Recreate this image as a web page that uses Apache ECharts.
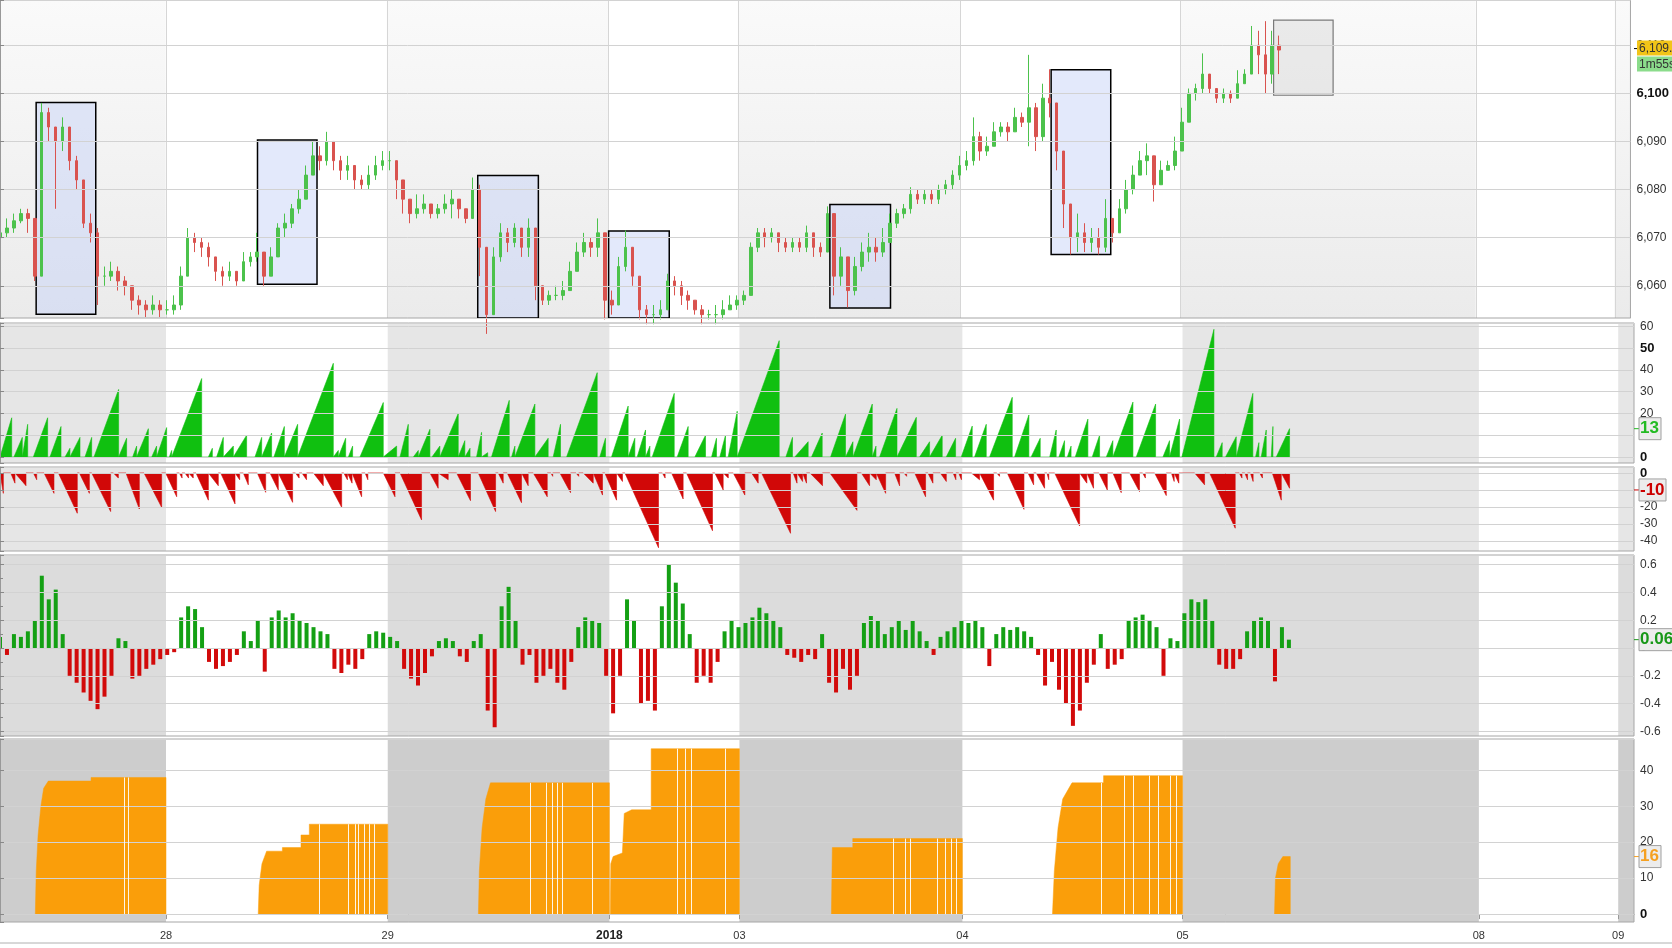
<!DOCTYPE html>
<html><head><meta charset="utf-8">
<script src="https://cdn.jsdelivr.net/npm/echarts@6/dist/echarts.min.js"></script>
<style>html,body{margin:0;padding:0;background:#fff}#c{width:1672px;height:948px}</style>
</head><body><div id="c"></div>
<script>
// ---------- DATA (time axis in hours from the left edge of the chart) ----------
const STEP = 0.75; // hours between consecutive bars
const dayTicks  = [17.87, 41.74, 65.6, 79.6, 103.6, 127.3, 159.2, 174.2];
const dayLabels = ['28', '29', '2018', '03', '04', '05', '08', '09'];
const X_MAX = 175.9;
const grayBands = [[0, 17.87], [41.74, 65.6], [79.6, 103.6], [127.3, 159.2], [174.2, 175.9]];

// price bars (close / low / high), one every STEP hours
const closes = [6071,6072,6073.5,6075,6074,6062,6096,6093,6090,6093,6086,6082,6073,6071,6062,6062,6063,6061,6060,6057,
6056,6055,6056,6055,6055,6056,6062,6070,6069,6068,6066,6063,6062,6063,6061,6065,6066,6067,6062,6066,
6072,6073,6076,6078,6083,6087,6086,6090,6086,6084,6085,6082,6081,6083,6085,6086,6086,6082,6078,6075,
6076,6077,6075,6076,6077,6078,6076,6074,6080,6068,6054,6066,6071,6069,6072,6068,6072,6060,6057,6058,
6058,6059,6063,6067,6069,6068,6071,6057,6056,6064,6068,6062,6055,6054,6054,6055,6061,6060,6058,6057,
6055,6054,6054,6054,6055,6056,6057,6058,6068,6071,6070,6071,6069,6068,6069,6068,6071,6068,6067,6075,
6062,6066,6059,6064,6067,6068,6067,6069,6073,6075,6076,6079,6078,6079,6078,6080,6081,6083,6085,6086,
6091,6088,6089,6092,6093,6092,6095,6094,6097,6091,6099,6098,6088,6077,6070,6071,6069,6070,6068,6074,
6071,6076,6080,6083,6086,6087,6081,6084,6085,6088,6094,6100,6101,6104,6101,6099,6100,6099,6102,6104,
6110,6108,6104,6110,6109];
const lows = [6069,6070,6071,6073,6071,6061,6062,6090,6076,6088,6084,6080,6072,6069,6056,6060,6061,6059,6058,6055,
6054,6053.5,6054,6053.5,6054,6054,6055,6062,6067,6066,6064,6061,6060,6061,6060,6061,6064,6065,6060,6062,
6066,6070,6072,6075,6078,6083,6084,6085,6084,6082,6082,6080,6080,6080,6082,6084,6084,6078,6075,6073,
6074,6075,6074,6074,6075,6074,6074,6073,6074,6062,6050,6054,6065,6067,6068,6066,6066,6057,6056,6056,
6057,6057,6059,6063,6066,6066,6066,6053,6054,6056,6063,6060,6053,6052,6052,6053,6055,6058,6056,6055,
6054,6052,6053,6052,6053,6055,6055,6056,6058,6067,6068,6069,6067,6067,6067,6067,6067,6066,6066,6067,
6058,6060,6055.5,6058,6063,6065,6065,6066,6069,6072,6074,6075,6077,6077,6077,6077,6079,6080,6082,6084,
6085,6086,6087,6089,6091,6090,6092,6093,6089,6088,6090,6095,6084,6072,6066.5,6067,6067,6067,6066.5,6067,
6069,6071,6075,6079,6083,6083,6077.5,6081,6084,6084,6088,6094,6098.5,6100,6100,6098,6098,6098,6099,6102,
6104,6104,6100,6102,6104];
const highs = [6073,6074,6075,6076,6076,6074,6098,6097,6093,6095,6093,6087,6082,6075,6072,6064,6065,6064,6062,6060,
6058,6057,6058,6057,6057,6058,6064,6072,6071,6070,6069,6066,6064,6065,6063,6067,6067,6071,6067,6068,
6073,6075,6077,6080,6085,6090,6089,6092,6090,6087,6087,6085,6083,6085,6087,6088,6088,6086,6082,6078,
6079,6079,6077,6077,6079,6080,6078,6076,6082.5,6081,6064,6068,6073,6072,6073,6072,6074,6072,6060,6059,
6060,6061,6065,6069,6071,6070,6074,6071,6059,6066,6071.5,6068,6062,6056,6056,6057,6062.5,6062,6061,6059,
6057,6056,6055,6056,6057,6058,6058,6059,6069,6072,6072,6072,6071,6070,6070,6070,6072.5,6071,6069,6076.5,
6075,6068,6066,6066,6069,6071,6070,6072,6075,6076,6077,6080.5,6080,6080,6080,6081,6082,6084,6087,6088,
6095,6092,6091,6094,6094,6094,6097,6096,6108,6098,6102,6105,6098,6088,6077,6075,6073,6072,6072,6078,
6074,6078,6082,6085,6088,6089.6,6086,6086,6086,6091,6097,6101,6102,6108.3,6104,6101,6101,6100.6,6104.8,6105,
6114,6113,6115,6113,6112];

// session range boxes: [fromHour, toHour, low, high]
const rangeBoxes = [[3.9,10.33,6054.1,6098.1],[27.78,34.2,6060.3,6090.3],[51.54,58.08,6050,6082.9],
  [65.66,72.2,6050,6071.4],[89.53,96.07,6055.4,6076.9],[113.4,119.83,6066.5,6104.9]];
const openBox = [137.4,143.82,6099.6,6115.2];

// buying-pressure ramps: [startHour, peakHour, peakValue]
const buyRamps = [[0,1.26,18],[1.5,2.4,9],[2.45,2.98,15],[3.59,5.13,18],[5.38,6.57,14],[7.0,7.53,4],[7.71,8.61,9],[9.15,9.87,9],
[10.12,12.77,31],[12.92,13.63,8.6],[14.28,14.71,5],[14.89,15.97,13],[16.33,16.86,5],[16.86,17.94,13.5],[18.23,18.48,3],
[18.66,21.71,36],[22.43,22.86,4],[23.32,24.04,9],[24.22,25.12,5],[25.3,26.55,10],[27.45,28.17,9],[28.35,29.24,11],
[29.49,30.61,14],[30.78,32.04,15],[32.22,35.88,43],[36.06,36.42,3],[36.6,37.21,8.6],[37.5,37.96,5],[38.75,41.26,25],
[41.44,42.7,5],[43.06,43.95,15],[44.49,45.03,3],[45.2,46.28,12.7],[46.5,47.35,5],[47.53,49.33,20],[49.5,50.04,7.5],
[50.2,50.6,4],[51.3,51.84,11.3],[52.0,52.5,2],[52.91,54.82,26],[55.07,55.43,5],[55.6,57.58,24.3],[57.76,59.01,8.6],
[59.55,60.34,15],[60.99,64.29,38.7],[64.57,65.18,8.6],[65.83,67.62,23.4],[67.8,68.34,8.6],[68.59,69.49,12.4],
[69.67,69.96,5],[70.21,72.58,29.2],[72.9,74.08,14],[74.8,75.95,10],[76.6,77.13,8.6],[77.49,78.1,10],[78.39,79.36,21],
[79.57,83.88,53.4],[84.6,85.31,9],[85.56,87.0,7],[87.36,88.51,11],[89.41,91.02,19.7],[91.1,91.82,7],[92.0,93.9,24.3],
[94.0,94.3,5],[94.69,96.56,22.3],[96.77,98.64,18.2],[98.99,100.07,7],[100.25,101.43,10],[101.86,102.87,8.6],
[103.48,104.66,14.2],[104.91,106.17,15],[106.53,108.97,27.4],[109.22,110.76,19.3],[111.0,111.98,8.6],[113.0,113.7,12.4],
[113.99,114.6,7.5],[114.9,115.3,5],[115.75,117.11,17.4],[117.58,118.37,10],[119.09,119.8,7.5],[119.98,121.96,25.2],
[122.32,124.4,24.3],[125.19,125.9,7.5],[126.08,126.98,17.4],[127.23,130.68,58.6],[130.93,131.57,6.6],[131.93,133.08,9.3],
[133.1,134.87,29.2],[135.16,135.52,6.6],[135.77,136.31,12.4],[136.85,137.03,14],[137.39,138.82,13]];

// selling-pressure ramps: [startHour, troughHour, troughValue]
const sellRamps = [[0,0.36,-12],[1.15,1.61,-6],[1.79,2.8,-7.5],[3.59,3.95,-4],[4.74,5.81,-12],[6.28,8.32,-23.7],[8.54,9.62,-12],
[9.87,11.91,-22.7],[12.2,12.74,-3],[13.56,15.0,-21.2],[15.5,17.4,-20.2],[17.83,19.02,-14],[19.3,19.6,-3],[19.9,20.3,-3],
[20.5,20.8,-3],[21.1,22.43,-16],[22.6,23.5,-7.5],[23.75,25.3,-18.2],[25.5,25.8,-4],[26.19,26.73,-7],[27.7,28.6,-11.4],
[29.06,29.96,-10],[30.14,31.5,-17.3],[31.8,32.2,-3],[32.5,33.0,-4],[33.73,34.8,-7.5],[34.98,36.78,-20.2],[37.0,37.4,-4],
[37.5,37.9,-6],[38.03,38.93,-14],[39.3,39.6,-4],[41.26,42.52,-14],[43.06,45.38,-27.6],[46.28,47.17,-9],[47.35,48.25,-4],
[49.15,50.65,-16.3],[51.48,53.35,-22.7],[53.63,54.17,-6],[54.6,56.14,-17.5],[56.32,56.86,-7.5],[57.4,58.91,-14],
[59.3,59.5,-2],[60.27,61.42,-11.6],[62.0,62.3,-2],[62.78,63.86,-6],[64.04,64.86,-13],[65.11,66.37,-16],[66.55,67.01,-5],
[67.27,70.89,-44],[71.3,71.6,-3],[72.29,73.54,-15.3],[73.9,76.7,-34],[76.95,77.85,-10],[78.0,78.4,-3],[78.93,80.18,-13],
[80.9,81.62,-6],[81.98,85.1,-35.5],[85.38,85.8,-6],[86.0,86.4,-5],[86.5,86.82,-6],[87.18,88.54,-7.5],[89.33,92.25,-22],
[92.72,93.61,-7.5],[93.79,94.33,-4],[94.44,95.34,-12],[96.3,96.84,-7.6],[97.3,97.6,-2],[98.46,99.64,-14],[99.89,100.43,-6],
[101.22,101.87,-5],[102.6,102.9,-4],[103.2,103.5,-4],[104.56,105.45,-4],[105.63,106.96,-16],[107.3,107.6,-2],
[108.43,110.23,-21.4],[110.66,111.27,-7],[111.55,112.45,-9],[112.7,112.9,-4],[113.53,116.22,-31.2],[116.4,117.0,-6],
[117.11,117.72,-9],[118.3,119.2,-10],[119.8,120.7,-11.6],[121.6,122.67,-11],[123.0,123.3,-3],[124.29,125.55,-13.3],
[126.1,126.4,-5],[126.6,126.9,-6],[128.6,129.67,-7],[130.21,132.97,-32.5],[133.4,133.7,-3],[134.0,134.3,-4],
[134.6,134.9,-5],[135.6,135.9,-3],[136.96,137.93,-16],[138.1,138.82,-9]];

// oscillator, one value every STEP hours
const oscValues = [0.08,-0.05,0.1,0.08,0.12,0.2,0.52,0.35,0.42,0.1,-0.2,-0.25,-0.32,-0.38,-0.44,-0.35,-0.2,0.07,0.05,-0.22,
-0.2,-0.15,-0.12,-0.08,-0.05,-0.03,0.22,0.3,0.28,0.15,-0.1,-0.15,-0.13,-0.1,-0.05,0.12,0.05,0.2,-0.17,0.22,
0.27,0.22,0.25,0.2,0.18,0.15,0.12,0.1,-0.15,-0.18,-0.12,-0.15,-0.08,0.1,0.12,0.11,0.08,0.05,-0.15,-0.22,
-0.27,-0.18,-0.06,0.05,0.07,0.05,-0.06,-0.1,0.05,0.1,-0.45,-0.57,0.3,0.44,0.2,-0.12,-0.05,-0.25,-0.2,-0.15,
-0.25,-0.3,-0.1,0.15,0.22,0.2,0.18,-0.2,-0.47,-0.2,0.35,0.2,-0.4,-0.38,-0.45,0.3,0.6,0.47,0.32,0.1,
-0.25,-0.2,-0.25,-0.1,0.12,0.2,0.15,0.18,0.22,0.29,0.25,0.2,0.15,-0.05,-0.07,-0.1,-0.05,-0.08,0.1,-0.25,
-0.32,-0.15,-0.3,-0.2,0.18,0.23,0.2,0.1,0.15,0.2,0.13,0.2,0.12,0.05,-0.05,0.08,0.12,0.15,0.2,0.18,
0.2,0.15,-0.13,0.1,0.15,0.13,0.15,0.12,0.08,-0.05,-0.27,-0.1,-0.3,-0.4,-0.56,-0.45,-0.25,-0.12,0.1,-0.15,
-0.12,-0.08,0.2,0.22,0.24,0.2,0.15,-0.2,0.07,0.05,0.25,0.35,0.33,0.35,0.2,-0.12,-0.15,-0.15,-0.08,0.12,
0.2,0.22,0.2,-0.24,0.15,0.06];

// duration blocks: outline points [hour, value]
const durationBlocks = [
  [[3.8,0],[3.9,12],[4.1,22],[4.4,30],[4.7,35],[5.2,37],[9.8,37],[9.8,38],[17.87,38],[17.87,0]],
  [[27.8,0],[27.9,8],[28.2,14],[28.7,17.5],[30.4,17.5],[30.4,18.5],[32.4,18.5],[32.4,22],[33.3,22],[33.3,25],[41.74,25],[41.74,0]],
  [[51.5,0],[51.6,12],[51.9,24],[52.3,32],[52.8,36.5],[65.6,36.5],[65.6,0]],
  [[65.7,0],[65.75,14],[66.0,16],[67.0,17],[67.2,28],[68.0,29],[70.1,29],[70.1,46],[79.6,46],[79.6,0]],
  [[89.5,0],[89.6,18.5],[91.8,18.5],[91.8,21],[103.6,21],[103.6,0]],
  [[113.3,0],[113.5,12],[113.9,24],[114.4,32],[115.4,36.5],[118.8,36.5],[118.8,38.5],[127.3,38.5],[127.3,0]],
  [[137.2,0],[137.3,10],[137.6,14],[138.1,16],[138.9,16],[138.9,0]]
];
// thin breaks inside the duration blocks: [hour, blockHeight]
const durationBreaks = [[13.4,38],[13.8,38],[34.4,25],[37.5,25],[38.2,25],[38.6,25],[39.2,25],[39.8,25],[40.3,25],
  [57.1,36.5],[58.8,36.5],[59.4,36.5],[60.0,36.5],[60.5,36.5],[63.8,36.5],[72.9,46],[73.8,46],[74.4,46],[78.1,46],
  [96.2,21],[97.4,21],[98.0,21],[100.9,21],[101.8,21],[102.4,21],[102.9,21],
  [118.6,36.5],[121.0,38.5],[122.0,38.5],[123.7,38.5],[124.7,38.5],[126.0,38.5],[126.6,38.5]];

const lastPriceText = '6,109.', lastTimerText = '1m55s', lastPrice = 6109.3;
const lastBuy = 13, lastSell = -10, lastOsc = 0.06, lastDur = 16;

// ---------- CHART ----------
const chart = echarts.init(document.getElementById('c'));
const FONT = 'Liberation Sans, Arial, sans-serif';
const gridDefs = [[0,318],[323,140],[467,84],[555,181],[739,183]];
const yRanges = [[6053.3,6119.4],[-2.75,61.5],[-45.9,3.5],[-0.633,0.669],[-2.2,48.7]];
const splitNums = [5,5,5,6,5];
const steps = [10,10,10,0.2,10];
const boldVals = [[6100],[0,50],[0],[],[0]];
const bandFill = [
  new echarts.graphic.LinearGradient(0,0,0,1,[{offset:0,color:'#fafafa'},{offset:1,color:'#ebebeb'}]),
  '#e6e6e6','#e6e6e6','#dcdcdc','#cdcdcd'];

const grids = gridDefs.map(g => ({left:0, right:38, top:g[0], height:g[1], show:true,
  borderColor:'#a6a6a6', borderWidth:1, backgroundColor:'transparent'}));

const xAxes = gridDefs.map((g,i) => ({
  type:'value', gridIndex:i, min:0, max:X_MAX, show: i===4,
  splitLine:{show:false},
  axisLine:{show:true, lineStyle:{color:'#999'}},
  axisTick:{show:true, customValues:dayTicks, length:5, lineStyle:{color:'#999'}},
  axisLabel:{show:true, customValues:dayTicks, color:'#333', fontSize:11, fontFamily:FONT, margin:8,
    formatter: v => { let k=0; dayTicks.forEach((d,j)=>{ if (Math.abs(d-v)<Math.abs(dayTicks[k]-v)) k=j; });
      return dayLabels[k]==='2018' ? '{b|2018}' : dayLabels[k]; },
    rich:{b:{fontWeight:'bold', fontSize:12, fontFamily:FONT, color:'#222'}}}
}));

const yAxes = yRanges.map((r,i) => ({
  type:'value', gridIndex:i, position:'right', min:r[0], max:r[1], scale:true, splitNumber:splitNums[i], z:5,
  axisLine:{show:true, lineStyle:{color:'#999'}},
  axisTick:{show:true, length:4, lineStyle:{color:'#888'}},
  minorTick: i===3 ? {show:true, splitNumber:2, length:3, lineStyle:{color:'#888'}} : {show:false},
  splitLine:{show:true, lineStyle:{color:'#d2d2d2', width:1}},
  axisLabel:{color:'#333', fontSize:12, fontFamily:FONT, margin:6,
    formatter: v => {
      const q = v/steps[i];
      if (Math.abs(q-Math.round(q))>1e-6) return '';
      let s;
      if (i===0) s = Math.round(v).toLocaleString('en-US');
      else if (i===3) s = Math.abs(v)<1e-9 ? '0' : v.toFixed(1);
      else s = String(Math.round(v));
      return boldVals[i].some(b=>Math.abs(b-v)<1e-6) ? '{b|'+s+'}' : s;
    },
    rich:{b:{fontWeight:'bold', fontSize:13, fontFamily:FONT, color:'#111'}}}
}));

const series = [];
// background day bands (drawn through the axes' own scales)
gridDefs.forEach((g,i) => {
  series.push({type:'custom', xAxisIndex:i, yAxisIndex:i, silent:true, z:-5, clip:true,
    data: grayBands.map(b=>[b[0], b[1]]),
    encode:{x:[0,1]},
    renderItem:(params, api) => {
      const p0 = api.coord([api.value(0), yRanges[i][1]]);
      const p1 = api.coord([api.value(1), yRanges[i][0]]);
      return {type:'rect', shape:{x:p0[0], y:p0[1], width:p1[0]-p0[0], height:p1[1]-p0[1]},
        style:{fill: bandFill[i]}};
    }});
});
// day separators in the price panel
series.push({type:'custom', xAxisIndex:0, yAxisIndex:0, silent:true, z:-4,
  data: dayTicks.map(d=>[d]), encode:{x:0},
  renderItem:(params, api) => {
    const a = api.coord([api.value(0), yRanges[0][1]]);
    const b = api.coord([api.value(0), yRanges[0][0]]);
    const x = Math.round(a[0]) + 0.5;
    return {type:'line', shape:{x1:x, y1:a[1], x2:x, y2:b[1]}, style:{stroke:'#d6d6d6', lineWidth:1}};
  }});

// candles
const candleData = closes.map((c,k) => [k*STEP, k===0 ? c-1 : closes[k-1], c, lows[k], highs[k]]);
series.push({type:'candlestick', xAxisIndex:0, yAxisIndex:0, data:candleData, z:3,
  encode:{x:0, y:[1,2,3,4]}, barWidth:3,
  itemStyle:{color:'#4cc24c', color0:'#d9534f', borderColor:'#4cc24c', borderColor0:'#d9534f', borderWidth:1},
  markArea:{silent:true,
    data: rangeBoxes.map(b=>[{xAxis:b[0], yAxis:b[2], itemStyle:{color:'rgba(200,212,248,0.5)', borderColor:'#000', borderWidth:1.5}},
                             {xAxis:b[1], yAxis:b[3]}])
      .concat([[{xAxis:openBox[0], yAxis:openBox[2], itemStyle:{color:'rgba(215,215,215,0.45)', borderColor:'#7a7a7a', borderWidth:1.2}},
                {xAxis:openBox[1], yAxis:openBox[3]}]])}
});

// ramps
function rampPoints(list){ const pts=[]; list.forEach(r=>{ pts.push([r[0],0],[r[1],r[2]],[r[1],0]); }); return pts; }
series.push({type:'line', xAxisIndex:1, yAxisIndex:1, data:rampPoints(buyRamps), showSymbol:false, z:3,
  lineStyle:{width:0.6, color:'#10c010'}, areaStyle:{color:'#10c010', opacity:1, origin:0}});
series.push({type:'line', xAxisIndex:2, yAxisIndex:2, data:rampPoints(sellRamps), showSymbol:false, z:3,
  lineStyle:{width:0.6, color:'#d10808'}, areaStyle:{color:'#d10808', opacity:1, origin:0}});

// oscillator
series.push({type:'bar', xAxisIndex:3, yAxisIndex:3, barWidth:4, z:3,
  data: oscValues.map((v,k)=>({value:[k*STEP, v], itemStyle:{color: v>=0 ? '#14a014' : '#d20a0a'}}))});

// duration blocks
const durPts = [];
durationBlocks.forEach((b,k)=>{ if (k>0) durPts.push([b[0][0], null]); b.forEach(p=>durPts.push(p)); });
series.push({type:'line', xAxisIndex:4, yAxisIndex:4, data:durPts, showSymbol:false, connectNulls:false, z:3,
  lineStyle:{width:0.5, color:'#fa9e0a'}, areaStyle:{color:'#fa9e0a', opacity:1, origin:0},
  markLine:{silent:true, symbol:'none', label:{show:false}, lineStyle:{color:'#ffffff', type:'solid', width:1, opacity:0.9},
    data: durationBreaks.map(b=>[{coord:[b[0],0]},{coord:[b[0],b[1]]}])}});

chart.setOption({animation:false, backgroundColor:'#fff', grid:grids, xAxis:xAxes, yAxis:yAxes, series:series});

// value badges on the right axis
function yPix(ax, v){ return chart.convertToPixel({yAxisIndex:ax}, v); }
const gx = 1634;
const gfx = [];
function boxBadge(ax, v, text, color, w){
  const y = yPix(ax, v);
  gfx.push({type:'line', shape:{x1:gx, y1:y, x2:gx+5, y2:y}, style:{stroke:color, lineWidth:1}, z:50});
  gfx.push({type:'rect', shape:{x:gx+5, y:y-11, width:w, height:22}, style:{fill:'#ececec', stroke:'#a0a0a0', lineWidth:1}, z:50});
  gfx.push({type:'text', x:gx+6, y:y, style:{text:text, fill:color, font:'bold 17px '+FONT, verticalAlign:'middle', align:'left'}, z:51});
}
boxBadge(1, lastBuy, String(lastBuy), '#22bb22', 22);
boxBadge(2, lastSell, String(lastSell), '#cc0000', 27);
boxBadge(3, lastOsc, lastOsc.toFixed(2), '#189818', 36);
boxBadge(4, lastDur, String(lastDur), '#f5a020', 22);
const py = yPix(0, lastPrice);
gfx.push({type:'line', shape:{x1:gx, y1:py, x2:gx+5, y2:py}, style:{stroke:'#000', lineWidth:1}, z:50});
gfx.push({type:'rect', shape:{x:gx+3, y:py-8, width:40, height:15}, style:{fill:'#f2c418'}, z:50});
gfx.push({type:'text', x:gx+5, y:py, style:{text:lastPriceText, fill:'#333', font:'12px '+FONT, verticalAlign:'middle'}, z:51});
gfx.push({type:'rect', shape:{x:gx+3, y:py+8, width:40, height:15}, style:{fill:'#8bdc8b'}, z:50});
gfx.push({type:'text', x:gx+5, y:py+16, style:{text:lastTimerText, fill:'#333', font:'12px '+FONT, verticalAlign:'middle'}, z:51});
gfx.push({type:'line', shape:{x1:0, y1:943, x2:1672, y2:943}, style:{stroke:'#b0b0b0', lineWidth:1}, z:50});
chart.setOption({graphic:gfx});
</script>
</body></html>
